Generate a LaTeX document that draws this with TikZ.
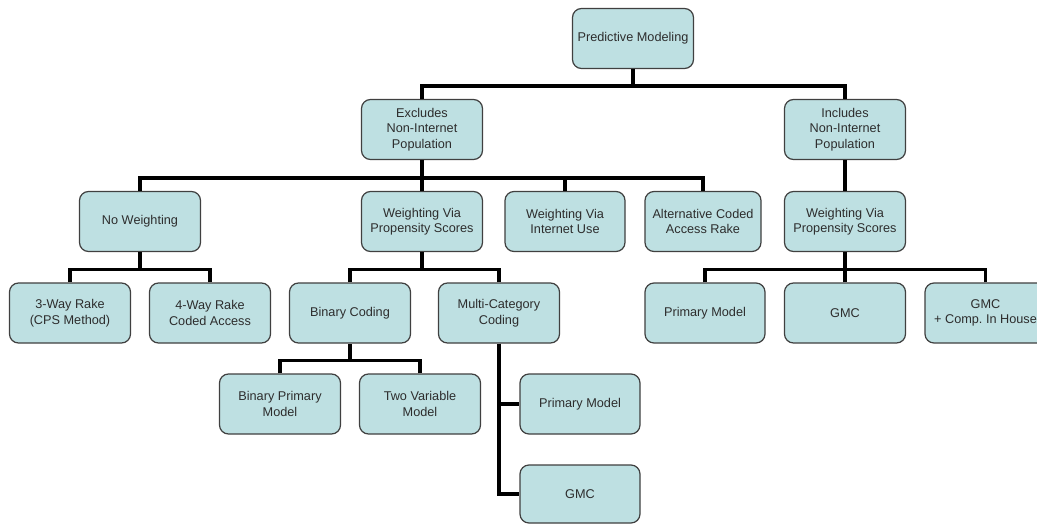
\documentclass[tikz,border=0pt]{standalone}
\usepackage{fontspec}
\setmainfont{Liberation Sans}
\definecolor{boxfill}{RGB}{190,224,226}
\definecolor{boxline}{RGB}{64,64,64}
\definecolor{txt}{RGB}{45,45,45}
\begin{document}
\begin{tikzpicture}[x=1pt,y=-1pt,
  box/.style={draw=boxline,line width=1.2pt,fill=boxfill,rounded corners=9pt,
    minimum width=121pt,minimum height=60pt,align=center,text=txt,inner sep=2pt,
    font=\fontsize{12.7}{15.5}\selectfont},
  conn/.style={draw=black,line width=3.6pt,line join=miter}]
\useasboundingbox (0,0) rectangle (1037,525);
\fill[white] (0,0) rectangle (1037,525);
\clip (0,0) rectangle (1037,525);
% level 0
\node[box] (pm) at (633,38.5) {Predictive Modeling};
% level 1
\node[box] (exc) at (422,129.5) {Excludes\\Non-Internet\\Population};
\node[box] (inc) at (845,129.5) {Includes\\Non-Internet\\Population};
% level 2
\node[box] (nw) at (140,221.5) {No Weighting};
\node[box] (wvp) at (422,221.5) {Weighting Via\\Propensity Scores};
\node[box,minimum width=120pt] (wvi) at (565,221.5) {Weighting Via\\Internet Use};
\node[box,minimum width=116pt] (alt) at (703,221.5) {Alternative Coded\\Access Rake};
\node[box] (wvp2) at (845,221.5) {Weighting Via\\Propensity Scores};
% level 3
\node[box] (r3) at (70,313) {3-Way Rake\\(CPS Method)};
\node[box] (r4) at (210,313) {4-Way Rake\\Coded Access};
\node[box] (bc) at (350,313) {Binary Coding};
\node[box] (mc) at (499,313) {Multi-Category\\Coding};
\node[box,minimum width=120pt] (pmr) at (705,313) {Primary Model};
\node[box] (gmcr) at (845,313) {GMC};
\node[box] (gmcc) at (985.5,313) {GMC\\+ Comp.\ In House};
% level 4
\node[box] (bpm) at (280,404) {Binary Primary\\Model};
\node[box] (tvm) at (420,404) {Two Variable\\Model};
\node[box,minimum width=120pt] (pmm) at (580,404) {Primary Model};
\node[box,minimum width=120pt,minimum height=58pt] (gmcm) at (580,494) {GMC};
% connectors
\draw[conn] (exc.north) -- ++(0,-13) -| (pm.south);
\draw[conn] (inc.north) -- ++(0,-13) -| (pm.south);
\foreach \c in {nw,wvp,wvi,alt}
  \draw[conn] (\c.north) -- ++(0,-13) -| (exc.south);
\draw[conn] (wvp2.north) -- (inc.south);
\foreach \c in {r3,r4}
  \draw[conn] (\c.north) -- ++(0,-13) -| (nw.south);
\foreach \c in {bc,mc}
  \draw[conn] (\c.north) -- ++(0,-13) -| (wvp.south);
\foreach \c in {pmr,gmcr,gmcc}
  \draw[conn] (\c.north) -- ++(0,-13) -| (wvp2.south);
\foreach \c in {bpm,tvm}
  \draw[conn] (\c.north) -- ++(0,-13) -| (bc.south);
\draw[conn] (mc.south) |- (pmm.west);
\draw[conn] (mc.south) |- (gmcm.west);
\end{tikzpicture}
\end{document}
